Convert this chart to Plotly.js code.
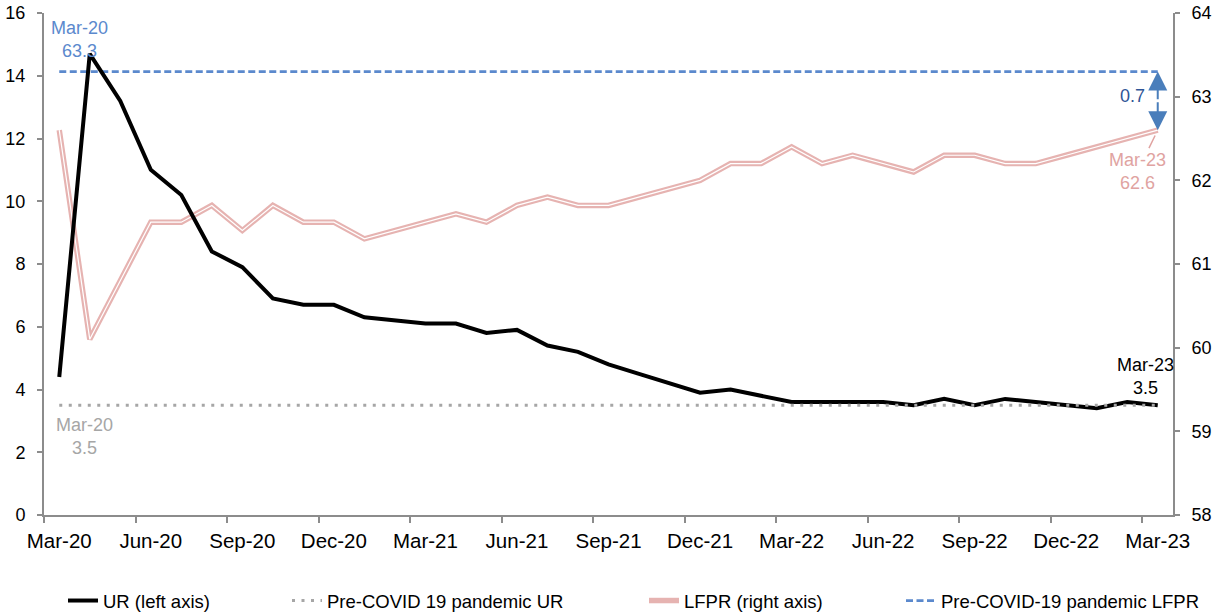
<!DOCTYPE html>
<html>
<head>
<meta charset="utf-8">
<script src="https://cdn.plot.ly/plotly-3.0.1.min.js"></script>
<style>html,body{margin:0;padding:0;background:#fff;}#chart{width:1222px;height:614px;}</style>
</head>
<body>
<div id="chart"></div>
<script>
// ---- data ----
var months = ['Mar-20','Apr-20','May-20','Jun-20','Jul-20','Aug-20','Sep-20','Oct-20','Nov-20','Dec-20',
  'Jan-21','Feb-21','Mar-21','Apr-21','May-21','Jun-21','Jul-21','Aug-21','Sep-21','Oct-21','Nov-21','Dec-21',
  'Jan-22','Feb-22','Mar-22','Apr-22','May-22','Jun-22','Jul-22','Aug-22','Sep-22','Oct-22','Nov-22','Dec-22',
  'Jan-23','Feb-23','Mar-23'];
var ur = [4.4,14.7,13.2,11.0,10.2,8.4,7.9,6.9,6.7,6.7,
  6.3,6.2,6.1,6.1,5.8,5.9,5.4,5.2,4.8,4.5,4.2,3.9,
  4.0,3.8,3.6,3.6,3.6,3.6,3.5,3.7,3.5,3.7,3.6,3.5,
  3.4,3.6,3.5];
var lfpr = [62.6,60.1,60.8,61.5,61.5,61.7,61.4,61.7,61.5,61.5,
  61.3,61.4,61.5,61.6,61.5,61.7,61.8,61.7,61.7,61.8,61.9,62.0,
  62.2,62.2,62.4,62.2,62.3,62.2,62.1,62.3,62.3,62.2,62.2,62.3,
  62.4,62.5,62.6];
var preCovidUR = months.map(function(){ return 3.5; });
var preCovidLFPR = months.map(function(){ return 63.3; });
var tickLabels = ['Mar-20','Jun-20','Sep-20','Dec-20','Mar-21','Jun-21','Sep-21','Dec-21','Mar-22','Jun-22','Sep-22','Dec-22','Mar-23'];
var seriesNames = ['UR (left axis)','Pre-COVID 19 pandemic UR','LFPR (right axis)','Pre-COVID-19 pandemic LFPR'];

// ---- build ----
var idx = months.map(function(m,i){ return i; });
var last = months.length - 1;
var tickVals = tickLabels.map(function(t){ return months.indexOf(t); });
var bounds = tickVals.map(function(v){ return v - 0.5; });

var FONT = 'Liberation Sans, Arial, sans-serif';
var PINK = '#E6B3B1', PINKTXT = '#E0A3A1', BLUE = '#5B89CD', GRAY = '#A6A6A6';

var traces = [
  {x: idx, y: lfpr, yaxis: 'y', mode: 'lines', name: seriesNames[2], legend: 'legend3',
   line: {color: PINK, width: 5.5}},
  {x: idx, y: lfpr, yaxis: 'y', mode: 'lines', showlegend: false,
   line: {color: '#ffffff', width: 1.2}},
  {x: idx, y: preCovidLFPR, yaxis: 'y', mode: 'lines', name: seriesNames[3], legend: 'legend4',
   line: {color: BLUE, width: 2.75, dash: '7px,3.5px'}},
  {x: idx, y: ur, yaxis: 'y2', mode: 'lines', name: seriesNames[0], legend: 'legend',
   line: {color: '#000000', width: 4}},
  {x: idx, y: preCovidUR, yaxis: 'y2', mode: 'lines', name: seriesNames[1], legend: 'legend2',
   line: {color: GRAY, width: 3, dash: '3px,6.5px'}}
];

function leg(px) {
  return {x: px/1222, xref: 'container', y: 1 - 601/614, yref: 'container', yanchor: 'middle', xanchor: 'left',
    orientation: 'h', bgcolor: 'rgba(0,0,0,0)', font: {family: FONT, size: 18.5, color: '#000'}};
}

var ann = [
  {x: 0, y: preCovidLFPR[0], xref: 'x', yref: 'y', text: months[0] + '<br>' + preCovidLFPR[0].toFixed(1),
   showarrow: false, xshift: 20, yshift: 32, font: {family: FONT, size: 18, color: BLUE}},
  {x: 0, y: preCovidUR[0], xref: 'x', yref: 'y2', text: months[0] + '<br>' + preCovidUR[0].toFixed(1),
   showarrow: false, xshift: 25, yshift: -31, font: {family: FONT, size: 18, color: GRAY}},
  {x: last, y: ur[last], xref: 'x', yref: 'y2', text: months[last] + '<br>' + ur[last].toFixed(1),
   showarrow: false, xshift: -12, yshift: 29, font: {family: FONT, size: 18, color: '#000'}},
  {x: last, y: lfpr[last], xref: 'x', yref: 'y', text: months[last] + '<br>' + lfpr[last].toFixed(1),
   showarrow: true, arrowhead: 0, arrowwidth: 1.5, arrowcolor: PINKTXT, ax: -20, ay: 41, standoff: 6,
   font: {family: FONT, size: 18, color: PINKTXT}},
  {x: last, y: preCovidLFPR[last], xref: 'x', yref: 'y', axref: 'x', ayref: 'y',
   ax: last, ay: (preCovidLFPR[last] + lfpr[last]) / 2, text: '', showarrow: true,
   arrowhead: 2, arrowsize: 1.9, arrowwidth: 2, arrowcolor: '#4A7EBB'},
  {x: last, y: lfpr[last], xref: 'x', yref: 'y', axref: 'x', ayref: 'y',
   ax: last, ay: (preCovidLFPR[last] + lfpr[last]) / 2, text: '', showarrow: true,
   arrowhead: 2, arrowsize: 1.9, arrowwidth: 2, arrowcolor: '#4A7EBB'},
  {x: last, y: (preCovidLFPR[last] + lfpr[last]) / 2, xref: 'x', yref: 'y',
   text: (preCovidLFPR[last] - lfpr[last]).toFixed(1), showarrow: false, xshift: -25, yshift: 5,
   font: {family: FONT, size: 18, color: '#2F5597'}}
];

var layout = {
  width: 1222, height: 614,
  margin: {l: 44, r: 49, t: 13, b: 99, pad: 0},
  paper_bgcolor: '#fff', plot_bgcolor: '#fff',
  font: {family: FONT, color: '#000'},
  hovermode: false,
  xaxis: {
    range: [-0.5, last + 0.5], tickmode: 'array', tickvals: tickVals, ticktext: tickLabels,
    ticks: '', showgrid: false, zeroline: false, showline: true, linecolor: '#8C8C8C', linewidth: 2,
    tickfont: {family: FONT, size: 20.5, color: '#000'}, ticklabelstandoff: 6,
    minor: {tickmode: 'array', tickvals: bounds, ticks: 'outside', ticklen: 6, tickwidth: 2, tickcolor: '#8C8C8C', showgrid: false}
  },
  yaxis: {
    range: [58, 64], dtick: 1, side: 'right', showgrid: false, zeroline: false,
    showline: true, linecolor: '#8C8C8C', linewidth: 2, ticks: 'outside', ticklen: 5, tickwidth: 2, tickcolor: '#8C8C8C',
    tickfont: {family: FONT, size: 18, color: '#000'}, ticklabelstandoff: 8
  },
  yaxis2: {
    range: [0, 16], dtick: 2, side: 'left', overlaying: 'y', showgrid: false, zeroline: false,
    showline: true, linecolor: '#8C8C8C', linewidth: 2, ticks: 'outside', ticklen: 5, tickwidth: 2, tickcolor: '#8C8C8C',
    tickfont: {family: FONT, size: 18, color: '#000'}, ticklabelstandoff: 8
  },
  legend: leg(63),
  legend2: leg(287),
  legend3: leg(644),
  legend4: leg(901),
  annotations: ann
};

Plotly.newPlot('chart', traces, layout, {displayModeBar: false, staticPlot: true});
</script>
</body>
</html>
